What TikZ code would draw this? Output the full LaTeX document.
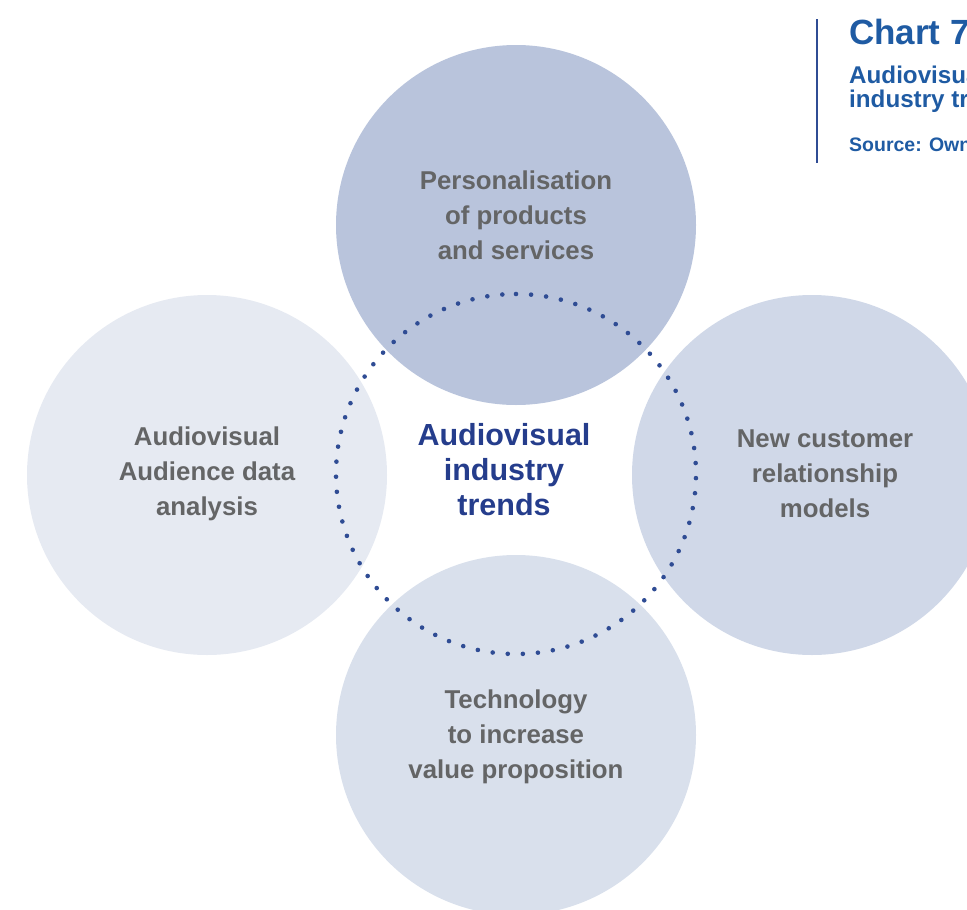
\documentclass[tikz,border=0pt]{standalone}
\usepackage{fontspec}
\setmainfont{Liberation Sans}
\definecolor{topfill}{HTML}{B9C4DC}
\definecolor{leftfill}{HTML}{E6EAF2}
\definecolor{rightfill}{HTML}{D0D8E8}
\definecolor{bottomfill}{HTML}{D9E0EC}
\definecolor{dotblue}{HTML}{2F4C94}
\definecolor{hubblue}{HTML}{253D8C}
\definecolor{titleblue}{HTML}{1F5BA3}
\definecolor{labelgray}{HTML}{646566}
\begin{document}
\begin{tikzpicture}[x=1pt,y=-1pt,
	trend/.style={align=center, text=labelgray, font=\bfseries\fontsize{25.8}{35}\selectfont},
	hub/.style={align=center, text=hubblue, font=\bfseries\fontsize{30.5}{35}\selectfont},
	dotring/.style={dotblue, line width=4.6pt, line cap=round, dash pattern=on 0pt off 15.1pt}]
		\useasboundingbox (0,0) rectangle (967,910);
		\clip (0,0) rectangle (967,910);
		\def\rad{180};
		
		\fill[topfill] (516,225) circle (\rad);
		\fill[leftfill] (207,475) circle (\rad);
		\fill[rightfill] (812,475) circle (\rad);
		\fill[bottomfill] (516,735) circle (\rad);
		
		\draw[dotring] (516,294) arc (-90:270:\rad);
		
		\node[trend] (pers) at (516,215) {Personalisation\\of products\\and services};
		\node[trend] (aud) at (207,474) {Audiovisual\\Audience data\\analysis};
		\node[trend] (cust) at (825,474) {New customer\\relationship\\models};
		\node[trend] (tech) at (516,737) {Technology\\to increase\\value proposition};
		\node[hub] (core) at (504,470) {Audiovisual\\industry\\trends};
		
		\draw[dotblue, line width=2.6pt] (817,19) -- (817,163);
		\node[anchor=base west, inner sep=0pt, text=titleblue, font=\bfseries\fontsize{35}{40}\selectfont] (chart) at (849,44) {Chart 7};
		\node[anchor=base west, inner sep=0pt, text=titleblue, font=\bfseries\fontsize{24.2}{23.5}\selectfont, align=left] (sub) at (849,107) {Audiovisual\\industry trends};
		\node[anchor=base west, inner sep=0pt, text=titleblue, font=\bfseries\fontsize{19.5}{22}\selectfont] (src) at (849,151) {Source: Own};
	\end{tikzpicture}
\end{document}
